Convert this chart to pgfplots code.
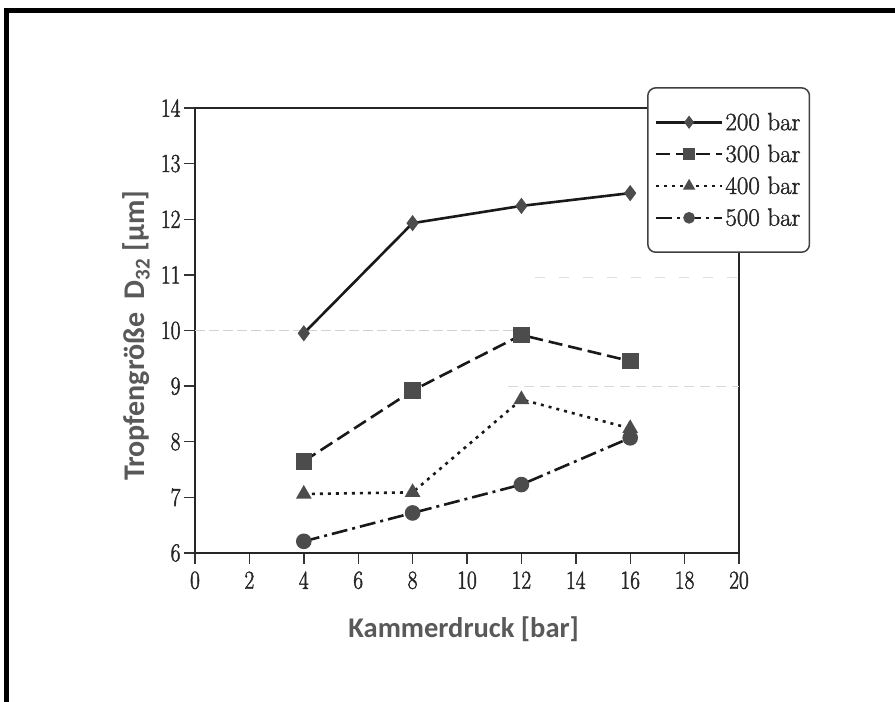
\documentclass[border=0pt]{standalone}
\usepackage{pgfplots}
\pgfplotsset{compat=1.18}
\usepackage{fontspec}
\newfontfamily\labelfont{Carlito}
\newfontfamily\tickfont{Latin Modern Roman}[FakeStretch=0.82, FakeBold=1.6]
\newfontfamily\legfont{Latin Modern Roman}[FakeBold=1.4]
\begin{document}
\begin{tikzpicture}
\path[use as bounding box] (0pt,0pt) rectangle (895pt,702pt);
\fill[white] (0pt,0pt) rectangle (895pt,702pt);
\draw[line width=5pt, black] (6pt,-10pt) -- (6pt,691pt) -- (910pt,691pt);
\begin{axis}[
  at={(195pt,149pt)}, anchor=south west,
  scale only axis, width=544pt, height=445pt,
  xmin=0, xmax=20, ymin=6, ymax=14,
  xtick={0,2,...,20}, ytick={6,7,...,14},
  tick pos=left, tick align=outside,
  major tick length=11pt,
  tick style={line width=1.4pt, black!80},
  axis line style={line width=1.7pt, black!85},
  /pgf/number format/assume math mode=true,
  ticklabel style={font=\tickfont\fontsize{26}{26}\selectfont, text=black!85},
  xticklabel style={yshift=-4pt},
  xlabel={Kammerdruck [bar]},
  ylabel={Tropfengröße\ \ D\textsubscript{32} [µm]},
  xlabel style={font=\labelfont\bfseries\fontsize{28.5}{28.5}\selectfont, text=black!65,
    at={(axis description cs:0.494,-0.171)}, anchor=center},
  ylabel style={font=\labelfont\bfseries\fontsize{30}{30}\selectfont, text=black!65,
    at={(axis description cs:-0.108,0.488)}, anchor=center},
  legend style={at={(axis description cs:0.831,1.047)}, anchor=north west,
    draw=black!75, line width=1.5pt, rounded corners=8pt, fill=white,
    font=\legfont\fontsize{25}{25}\selectfont, text=black!85, row sep=9pt,
    inner xsep=7pt, inner ysep=23pt},
  legend cell align=left,
  legend image code/.code={
    \draw[mark repeat=2,mark phase=2,#1,mark size=4.5pt] plot coordinates {(0pt,0pt) (33pt,0pt) (66pt,0pt)};
  },
]
\addplot[forget plot, gray!35, line width=1.2pt, dash pattern=on 10pt off 4pt] coordinates {(0,10) (12,10)};
\addplot[forget plot, gray!30, line width=1.2pt, dash pattern=on 10pt off 6pt] coordinates {(11.5,9) (20,9)};
\addplot[forget plot, gray!25, line width=1.2pt, dash pattern=on 10pt off 14pt] coordinates {(12.5,10.95) (20,10.95)};

\addplot[black!90, line width=2.6pt, mark=diamond*, mark size=6pt,
  mark options={solid, fill=black!70, draw=black!70}]
  coordinates {(4,9.95) (8,11.93) (12,12.24) (16,12.47)};
\addlegendentry{200 bar}
\addplot[black!90, line width=2.6pt, dash pattern=on 14pt off 6pt, mark=square*, mark size=7pt,
  mark options={solid, fill=black!70, draw=black!70}]
  coordinates {(4,7.65) (8,8.92) (12,9.92) (16,9.45)};
\addlegendentry{300 bar}
\addplot[black!90, line width=2.6pt, dash pattern=on 3pt off 5pt, mark=triangle*, mark size=6.5pt,
  mark options={solid, fill=black!70, draw=black!70}]
  coordinates {(4,7.06) (8,7.09) (12,8.76) (16,8.24)};
\addlegendentry{400 bar}
\addplot[black!90, line width=2.6pt, dash pattern=on 16pt off 5pt on 3pt off 5pt, mark=*, mark size=6.5pt,
  mark options={solid, fill=black!70, draw=black!70}]
  coordinates {(4,6.21) (8,6.72) (12,7.23) (16,8.07)};
\addlegendentry{500 bar}
\end{axis}
\end{tikzpicture}
\end{document}
